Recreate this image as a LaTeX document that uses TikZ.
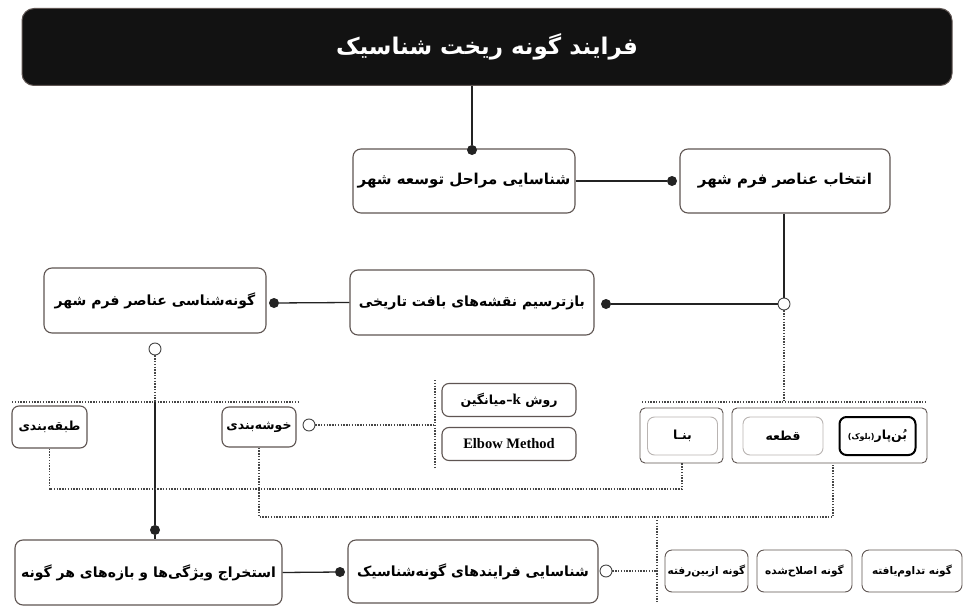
\documentclass[tikz,border=0pt]{standalone}
\usepackage{fontspec}
\setmainfont{DejaVu Sans}
\newfontfamily\fa[Script=Arabic]{DejaVu Sans}
\newfontfamily\elb{Liberation Serif}
\TeXXeTstate=1
\newcommand\fatx[1]{\beginR #1\endR}
\definecolor{boxc}{RGB}{95,85,82}
\definecolor{linec}{RGB}{35,35,35}
\definecolor{dotc}{RGB}{70,70,70}
\definecolor{lightc}{RGB}{185,180,178}
\definecolor{topc}{RGB}{18,18,18}
\tikzset{
  box/.style={draw=boxc, line width=1.1pt, rounded corners=8pt, fill=white,
    align=center, inner sep=0pt, text=black, font=\fa\bfseries\fontsize{15}{18}\selectfont},
  midbox/.style={box, font=\fa\bfseries\fontsize{14}{17}\selectfont},
  smallbox/.style={box, rounded corners=7pt, font=\fa\bfseries\fontsize{12.5}{15}\selectfont},
  tinybox/.style={box, rounded corners=7pt, line width=0.9pt, font=\fa\bfseries\fontsize{10.5}{13}\selectfont},
  lightbox/.style={smallbox, draw=lightc, line width=0.9pt},
  blackbox/.style={smallbox, draw=black, line width=2pt},
  groupbox/.style={draw=boxc, line width=0.9pt, rounded corners=5pt, inner sep=0pt},
  topbox/.style={draw=boxc, line width=1pt, rounded corners=12pt, fill=topc,
    text=white, align=center, font=\fa\bfseries\fontsize{23}{27}\selectfont},
  fdot/.style={circle, fill=linec, inner sep=0pt, minimum size=10pt},
  odot/.style={circle, draw=dotc, fill=white, line width=0.9pt, inner sep=0pt, minimum size=12pt},
  conn/.style={draw=linec, line width=1.3pt},
  dline/.style={draw=dotc, line width=1.4pt, dash pattern=on 1.4pt off 1.4pt},
}
\begin{document}
\begin{tikzpicture}[x=1pt,y=-1pt]
\fill[white] (0,0) rectangle (974,607);
\useasboundingbox (0,0) rectangle (974,607);

% title
\node[topbox, minimum width=930pt, minimum height=77pt] (top) at (487,47) {\fatx{فرایند گونه ریخت شناسیک}};

% row 2
\node[box, minimum width=222pt, minimum height=64pt] (mar) at (464,181) {\fatx{شناسایی مراحل توسعه شهر}};
\node[box, minimum width=210pt, minimum height=64pt] (ent) at (785,181) {\fatx{انتخاب عناصر فرم شهر}};

% row 3
\node[midbox, minimum width=244pt, minimum height=65pt] (baz) at (472,302.5) {\fatx{بازترسیم نقشه‌های بافت تاریخی}};
\node[midbox, minimum width=222pt, minimum height=65pt] (gun) at (155,300.5) {\fatx{گونه‌شناسی عناصر فرم شهر}};

% dots row 2/3
\node[fdot] (d1) at (472,150) {};
\node[fdot] (d2) at (672,181) {};
\node[odot] (c1) at (784,304) {};
\node[fdot] (d3) at (606,304) {};
\node[fdot] (d4) at (274,303) {};
\node[odot] (c2) at (155,349) {};

\draw[conn] (d1 |- top.south) -- (d1);
\draw[conn] (mar.east) -- (d2);
\draw[conn] (ent.south -| c1) -- (c1);
\draw[conn] (c1) -- (d3);
\draw[conn] (baz.west) -- (d4);

% clustering area
\node[smallbox, minimum width=75pt, minimum height=42pt] (tab) at (49.5,427) {\fatx{طبقه‌بندی}};
\node[smallbox, minimum width=74pt, minimum height=40pt] (kho) at (259,427) {\fatx{خوشه‌بندی}};
\node[odot] (c3) at (309,425) {};
\node[smallbox, minimum width=134pt, minimum height=33pt] (km) at (509,400) {\fatx{روش \beginL{\elb\bfseries\fontsize{15}{17}\selectfont k}\endL–میانگین}};
\node[smallbox, minimum width=134pt, minimum height=33pt, font=\elb\bfseries\fontsize{14.5}{16}\selectfont] (elb) at (509,444) {Elbow Method};

\coordinate (j1) at (155,402);
\node[fdot] (d5) at (155,530) {};
\coordinate (bl) at (12,402);
\coordinate (br) at (298,402);
\draw[dline] (bl) -- (br);
\draw[dline] (c2) -- (j1);
\draw[conn] (j1) -- (d5);
\coordinate (kv1) at (435,380);
\coordinate (kv2) at (435,468);
\draw[dline] (kv1) -- (kv2);
\draw[dline] (c3) -- (c3 -| kv1);

% elements group
\node[groupbox, minimum width=83pt, minimum height=55pt] (banaO) at (681.5,435.5) {};
\node[lightbox, minimum width=70pt, minimum height=38pt] (bana) at (682.5,436) {\fatx{بنـا}};
\node[groupbox, minimum width=195pt, minimum height=55pt] (grp) at (829.5,435.5) {};
\node[lightbox, minimum width=80pt, minimum height=38pt] (qat) at (783,436) {\fatx{قطعه}};
\node[blackbox, minimum width=76pt, minimum height=38pt] (bon) at (877.5,436) {\fatx{بُن‌پار{\fontsize{8}{9}\selectfont(بلوک)}}};

\coordinate (gl) at (642,402);
\coordinate (gr) at (925,402);
\draw[dline] (gl) -- (gr);
\draw[dline] (c1) -- (c1 |- gl);

\coordinate (r1) at (682,489);
\coordinate (r2) at (833,517);
\draw[dline] (tab.south) |- (r1) -- (banaO.south -| r1);
\draw[dline] (kho.south) |- (r2) -- (grp.south -| r2);

% bottom row
\node[midbox, minimum width=267pt, minimum height=65pt] (ext) at (148.5,572.5) {\fatx{استخراج ویژگی‌ها و بازه‌های هر گونه}};
\node[midbox, minimum width=250pt, minimum height=63pt] (fra) at (473,571.5) {\fatx{شناسایی فرایندهای گونه‌شناسیک}};
\draw[conn] (d5) -- (d5 |- ext.north);
\node[fdot] (d6) at (340,572) {};
\draw[conn] (ext.east) -- (d6);
\node[odot] (c4) at (606,571) {};
\coordinate (bv1) at (657,520);
\coordinate (bv2) at (657,602);
\draw[dline] (bv1) -- (bv2);
\draw[dline] (c4) -- (c4 -| bv1);

\node[tinybox, minimum width=83pt, minimum height=42pt] (g1) at (706.5,571) {\fatx{گونه ازبین‌رفته}};
\node[tinybox, minimum width=95pt, minimum height=42pt] (g2) at (804.5,571) {\fatx{گونه اصلاح‌شده}};
\node[tinybox, minimum width=100pt, minimum height=42pt] (g3) at (912,571) {\fatx{گونه تداوم‌یافته}};
\end{tikzpicture}
\end{document}
